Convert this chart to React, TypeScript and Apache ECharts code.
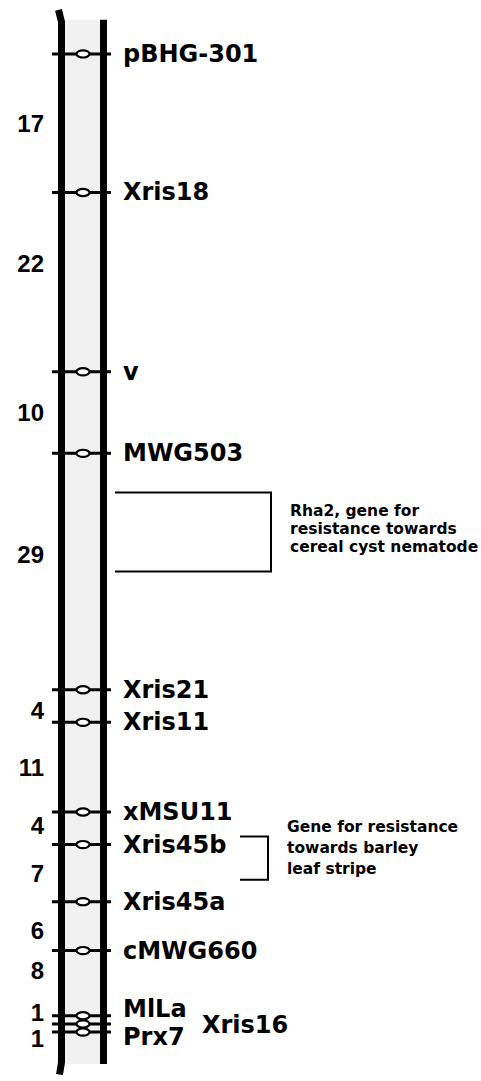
import React, { useEffect, useRef } from "react";
import * as echarts from "echarts";

// ---- data ----
const markerNames = [
  "pBHG-301", "Xris18", "v", "MWG503", "Xris21", "Xris11", "xMSU11",
  "Xris45b", "Xris45a", "cMWG660", "MlLa", "Xris16", "Prx7",
];
// distances (cM) between consecutive markers
const intervalDistances = [17, 22, 10, 29, 4, 11, 4, 7, 6, 8, 1, 1];
// chromosome extent in cM (left and right outline)
const leftRailExtent = [-5.4, 125.2];
const rightRailExtent = [-4.2, 123.9];
// gene intervals (cM)
const rha2Interval = [53.8, 63.5];
const rha2Text = ["Rha2, gene for", "resistance towards", "cereal cyst nematode"];
const leafStripeInterval = [96.0, 101.3];
const leafStripeText = ["Gene for resistance", "towards barley", "leaf stripe"];

// ---- derived ----
const markerPositions: number[] = [0];
intervalDistances.forEach((d, i) => markerPositions.push(markerPositions[i] + d));

// ---- styles / layout tweaks ----
const LEFT_RAIL_X = 61.5;
const RIGHT_RAIL_X = 103.5;
const RAIL_W = 7;
const TICK_X1 = 52;
const TICK_X2 = 111;
const DOT_X = 83;
const LABEL_X = 123;
const DIST_X = 44;
const markerLabelShift: Record<string, [number, number]> = {
  MlLa: [0, -7],
  Xris16: [79, 1],
  Prx7: [0, 5],
};
const distanceLabelShift = [0, -19, 0, -17, 4, 0, -3, 0, 4, -13, -7, 10];
const bracketStyles = [
  { x0: 115, x1: 271, textX: 290, textDy: 10, lineHeight: 18 },
  { x0: 240, x1: 268, textX: 287, textDy: -20, lineHeight: 21 },
];
const bracketData = [
  [rha2Interval[0], rha2Interval[1], 0],
  [leafStripeInterval[0], leafStripeInterval[1], 1],
];
const bracketTexts = [rha2Text, leafStripeText];

export default function App() {
  const ref = useRef<HTMLDivElement>(null);
  useEffect(() => {
    document.body.style.margin = "0";
    document.body.style.background = "#fff";
    if (!ref.current) return;
    const chart = echarts.init(ref.current, undefined, { renderer: "svg" });
    const option: any = {
      animation: false,
      backgroundColor: "#fff",
      grid: { left: 0, right: 0, top: 5, bottom: 0 },
      xAxis: { type: "value", min: 0, max: 481, show: false },
      yAxis: { type: "value", min: -6, max: 126, inverse: true, show: false },
      series: [
        {
          type: "custom",
          name: "chromosome",
          data: [[leftRailExtent[0], leftRailExtent[1], rightRailExtent[0], rightRailExtent[1]]],
          renderItem: (_p: any, api: any) => {
            const lt = api.coord([LEFT_RAIL_X, api.value(0)]);
            const lb = api.coord([LEFT_RAIL_X, api.value(1)]);
            const rt = api.coord([RIGHT_RAIL_X, api.value(2)]);
            const rb = api.coord([RIGHT_RAIL_X, api.value(3)]);
            return {
              type: "group",
              children: [
                {
                  type: "rect",
                  shape: {
                    x: lt[0],
                    y: rt[1],
                    width: rt[0] - lt[0],
                    height: rb[1] - rt[1],
                  },
                  style: { fill: "#f1f1f1" },
                },
                {
                  type: "polyline",
                  shape: {
                    points: [
                      [lt[0] - 3, lt[1]],
                      [lt[0], lt[1] + 12],
                      [lb[0], lb[1] - 12],
                      [lb[0] - 2, lb[1]],
                    ],
                  },
                  style: { stroke: "#000", lineWidth: RAIL_W, fill: null },
                },
                {
                  type: "line",
                  shape: { x1: rt[0], y1: rt[1], x2: rb[0], y2: rb[1] },
                  style: { stroke: "#000", lineWidth: RAIL_W },
                },
              ],
            };
          },
          z: 1,
        },
        {
          type: "custom",
          name: "markers",
          data: markerPositions.map((p, i) => [i, p]),
          renderItem: (params: any, api: any) => {
            const cm = api.value(1);
            const idx = params.dataIndex;
            const a = api.coord([TICK_X1, cm]);
            const b = api.coord([TICK_X2, cm]);
            const c = api.coord([DOT_X, cm]);
            const l = api.coord([LABEL_X, cm]);
            const name = markerNames[idx];
            const sh = markerLabelShift[name] || [0, 0];
            return {
              type: "group",
              children: [
                {
                  type: "line",
                  shape: { x1: a[0], y1: a[1], x2: b[0], y2: b[1] },
                  style: { stroke: "#000", lineWidth: 3 },
                },
                {
                  type: "ellipse",
                  shape: { cx: c[0], cy: c[1], rx: 6.5, ry: 3.6 },
                  style: { fill: "#fff", stroke: "#000", lineWidth: 2.2 },
                },
                {
                  type: "text",
                  x: l[0] + sh[0],
                  y: l[1] + sh[1],
                  style: {
                    text: name,
                    fontFamily: "DejaVu Sans",
                    fontWeight: "bold",
                    fontSize: 24,
                    lineHeight: 20,
                    fill: "#000",
                    align: "left",
                    verticalAlign: "middle",
                  },
                },
              ],
            };
          },
          z: 2,
        },
        {
          type: "custom",
          name: "distances",
          data: intervalDistances.map((d, i) => [
            (markerPositions[i] + markerPositions[i + 1]) / 2,
            d,
          ]),
          renderItem: (params: any, api: any) => {
            const p = api.coord([DIST_X, api.value(0)]);
            return {
              type: "text",
              x: p[0],
              y: p[1] + distanceLabelShift[params.dataIndex],
              style: {
                text: String(api.value(1)),
                fontFamily: "Liberation Sans",
                fontWeight: "bold",
                fontSize: 24,
                lineHeight: 18,
                fill: "#000",
                align: "right",
                verticalAlign: "middle",
              },
            };
          },
          z: 2,
        },
        {
          type: "custom",
          name: "genes",
          data: bracketData,
          renderItem: (params: any, api: any) => {
            const idx = params.dataIndex;
            const st = bracketStyles[idx];
            const t0 = api.coord([st.x0, api.value(0)]);
            const t1 = api.coord([st.x1, api.value(0)]);
            const b1 = api.coord([st.x1, api.value(1)]);
            const b0 = api.coord([st.x0, api.value(1)]);
            const tx = api.coord([st.textX, api.value(0)]);
            return {
              type: "group",
              children: [
                {
                  type: "polyline",
                  shape: { points: [t0, t1, b1, b0] },
                  style: { stroke: "#000", lineWidth: 2, fill: null },
                },
                {
                  type: "text",
                  x: tx[0],
                  y: tx[1] + st.textDy,
                  style: {
                    text: bracketTexts[idx].join("\n"),
                    fontFamily: "DejaVu Sans",
                    fontWeight: "bold",
                    fontSize: 15.5,
                    lineHeight: st.lineHeight,
                    fill: "#000",
                    align: "left",
                    verticalAlign: "top",
                  },
                },
              ],
            };
          },
          z: 2,
        },
      ],
    };
    chart.setOption(option);
    return () => chart.dispose();
  }, []);
  return <div ref={ref} style={{ width: 481, height: 1081, background: "#fff" }} />;
}
